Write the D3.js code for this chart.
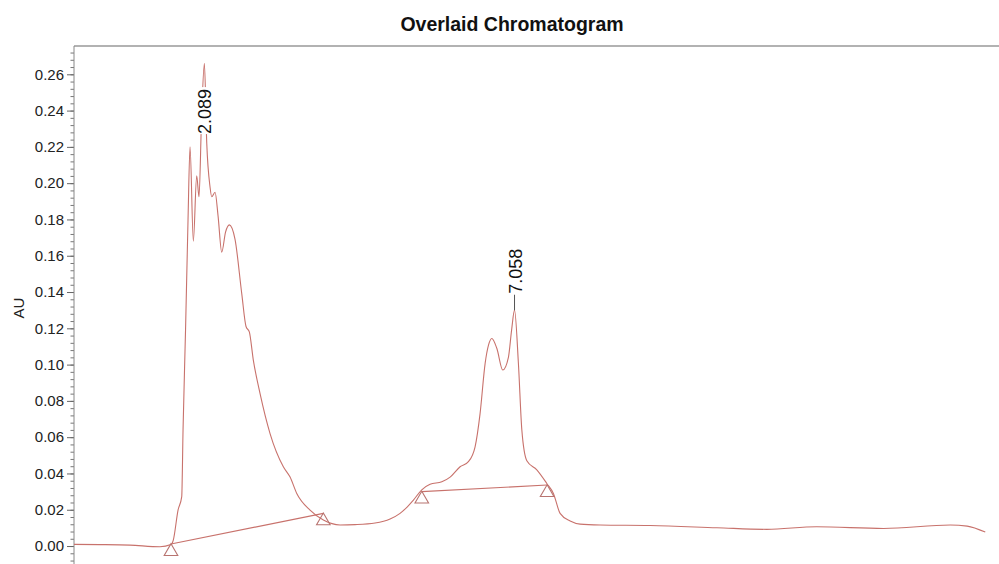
<!DOCTYPE html>
<html>
<head>
<meta charset="utf-8">
<script src="https://cdn.jsdelivr.net/npm/d3@7"></script>
<style>
  body { margin: 0; background: #fff; }
  svg { display: block; font-family: "Liberation Sans", Arial, Helvetica, sans-serif; }
  .ticks .domain { display: none; }
</style>
</head>
<body>
<script>
const width = 999
const height = 564

// retention time (min) and absorbance (AU)
const times = [0, 0.417, 0.897, 1.378, 1.554, 1.591, 1.667, 1.726, 1.747, 1.787, 1.827, 1.859,
  1.912, 1.966, 2.003, 2.043, 2.089, 2.127, 2.179, 2.207, 2.260, 2.308, 2.367, 2.428, 2.489,
  2.580, 2.688, 2.756, 2.809, 2.873, 2.981, 3.141, 3.354, 3.462, 3.569, 3.782, 3.995, 4.263,
  4.503, 4.824, 5.064, 5.224, 5.337, 5.438, 5.572, 5.705, 5.893, 6.026, 6.186, 6.319, 6.426,
  6.506, 6.587, 6.643, 6.694, 6.774, 6.870, 6.960, 7.011, 7.058, 7.120, 7.175, 7.255, 7.415,
  7.575, 7.681, 7.788, 7.949, 8.109, 8.429, 9.231, 10.30, 11.10, 11.90, 12.97, 14.04, 14.31,
  14.60]
const absorbance = [0.0009, 0.0008, 0.0005, -0.0004, 0.0008, 0.0033, 0.0198, 0.0272, 0.064,
  0.119, 0.180, 0.220, 0.168, 0.204, 0.1925, 0.235, 0.266, 0.222, 0.198, 0.1925, 0.195, 0.182,
  0.162, 0.173, 0.177, 0.169, 0.139, 0.121, 0.118, 0.1025, 0.084, 0.062, 0.0437, 0.038, 0.029,
  0.0198, 0.0143, 0.0116, 0.0118, 0.0127, 0.0149, 0.018, 0.0215, 0.0253, 0.031, 0.034, 0.0354,
  0.038, 0.0437, 0.0465, 0.0547, 0.073, 0.1007, 0.111, 0.1144, 0.109, 0.097, 0.104, 0.119,
  0.130, 0.1007, 0.064, 0.047, 0.042, 0.0345, 0.029, 0.018, 0.0138, 0.0121, 0.0116, 0.0113,
  0.0101, 0.0092, 0.0106, 0.0097, 0.0116, 0.011, 0.0077]

// integration baselines: [start time, start AU, end time, end AU]
const baselines = [
  [1.554, 0.0011, 3.995, 0.0180],
  [5.572, 0.0300, 7.580, 0.0336]
]

// labelled peaks: retention time, apex AU, AU where the label starts
const peakTimes = [2.089, 7.058]
const peakApex = [0.266, 0.130]
const peakLabelAt = [0.2265, 0.1385]

const yTicks = d3.range(0, 0.2601, 0.02)
const yMinorTicks = d3.range(-0.008, 0.2756, 0.004)

const margin = { top: 46, left: 74 }
const color = '#c8726c'

const x = d3.scaleLinear().domain([0, 14.82]).range([margin.left, width])
const y = d3.scaleLinear().domain([-0.0099, 0.2756]).range([height, margin.top])

const svg = d3.select('body').append('svg')
  .attr('width', width)
  .attr('height', height)

// Title and the rule under it
svg.append('text')
  .attr('x', 512).attr('y', 31)
  .attr('text-anchor', 'middle')
  .attr('font-size', 19.5).attr('font-weight', 'bold')
  .attr('fill', '#111')
  .text('Overlaid Chromatogram')

svg.append('line')
  .attr('x1', margin.left).attr('x2', width)
  .attr('y1', margin.top).attr('y2', margin.top)
  .attr('stroke', '#999').attr('stroke-width', 1.5)

// Y axis: minor ticks first, then labelled ticks
svg.append('g').classed('ticks', true)
  .attr('transform', `translate(${margin.left},0)`)
  .call(d3.axisLeft(y).tickValues(yMinorTicks).tickSize(3.5).tickFormat(''))
  .selectAll('line').attr('stroke', '#777')

const yAxis = svg.append('g').classed('ticks', true)
  .attr('transform', `translate(${margin.left},0)`)
  .call(d3.axisLeft(y).tickValues(yTicks).tickSize(7).tickPadding(3).tickFormat(d3.format('.2f')))
yAxis.selectAll('line').attr('stroke', '#666')
yAxis.selectAll('text')
  .attr('font-size', 15)
  .attr('fill', '#222')
  .attr('font-family', '"Liberation Sans", Arial, sans-serif')

svg.append('line')
  .attr('x1', margin.left).attr('x2', margin.left)
  .attr('y1', margin.top).attr('y2', height)
  .attr('stroke', '#888').attr('stroke-width', 1)

svg.append('text')
  .attr('transform', `translate(24,${308}) rotate(-90)`)
  .attr('text-anchor', 'middle')
  .attr('font-size', 15).attr('fill', '#222')
  .text('AU')

// The trace
const trace = times.map((t, i) => ({ t, v: absorbance[i] }))
const line = d3.line()
  .x(d => x(d.t))
  .y(d => y(d.v))
  .curve(d3.curveMonotoneX)

const plot = svg.append('g').classed('plot', true)

plot.append('path')
  .datum(trace)
  .attr('d', line)
  .attr('fill', 'none')
  .attr('stroke', color)
  .attr('stroke-width', 1.1)

// Baselines and their end markers
plot.selectAll('line.baseline')
  .data(baselines)
  .enter().append('line').classed('baseline', true)
  .attr('x1', d => x(d[0])).attr('y1', d => y(d[1]))
  .attr('x2', d => x(d[2])).attr('y2', d => y(d[3]))
  .attr('stroke', color).attr('stroke-width', 1.1)

const ends = baselines.flatMap(d => [[d[0], d[1]], [d[2], d[3]]])
plot.selectAll('path.marker')
  .data(ends)
  .enter().append('path').classed('marker', true)
  .attr('d', d3.symbol().type(d3.symbolTriangle).size(80))
  .attr('transform', d => `translate(${x(d[0])},${y(d[1]) + 7.5})`)
  .attr('fill', 'none')
  .attr('stroke', '#b87470').attr('stroke-width', 1.1)

// Peak labels
const peaks = peakTimes.map((t, i) => ({ t, apex: peakApex[i], at: peakLabelAt[i] }))
const label = plot.selectAll('g.peak')
  .data(peaks)
  .enter().append('g').classed('peak', true)

// leader only where the label sits above the apex
label.filter(d => d.at > d.apex).append('line')
  .attr('x1', d => x(d.t)).attr('x2', d => x(d.t))
  .attr('y1', d => y(d.apex)).attr('y2', d => y(d.at))
  .attr('stroke', '#555').attr('stroke-width', 1)

label.append('rect')
  .attr('x', d => x(d.t) - 7.5)
  .attr('y', d => y(d.at) - 48)
  .attr('width', 15).attr('height', 47)
  .attr('fill', '#fff')

label.append('text')
  .attr('transform', d => `translate(${x(d.t) + 7},${y(d.at) - 1}) rotate(-90)`)
  .attr('font-size', 18).attr('fill', '#111')
  .text(d => d3.format('.3f')(d.t))
</script>
</body>
</html>
